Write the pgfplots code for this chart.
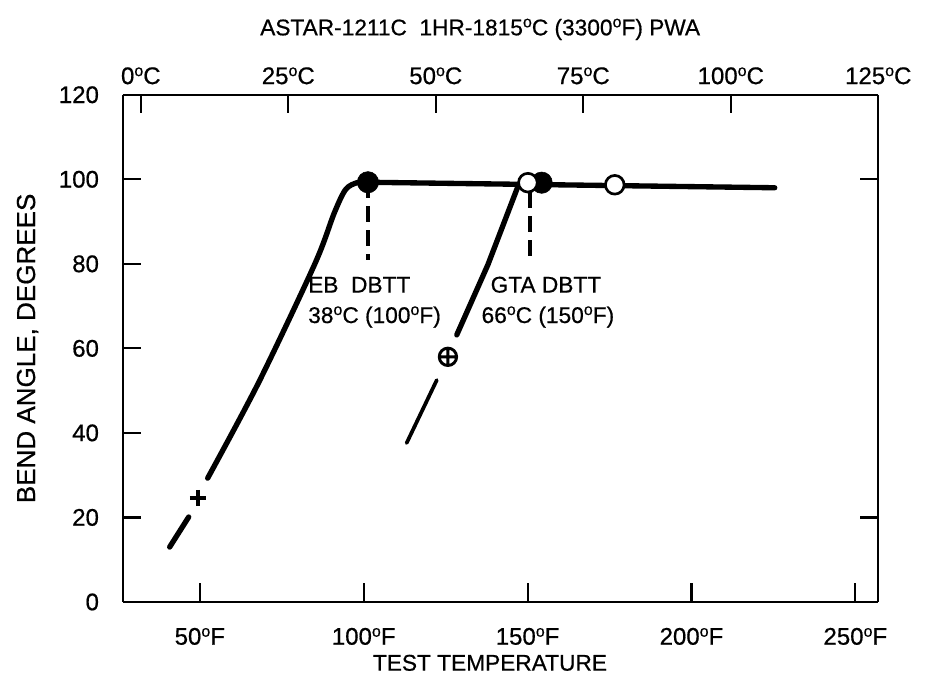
\documentclass[border=0pt]{standalone}
\usepackage{fontspec}
\setmainfont{Liberation Sans}[FakeBold=0.6]
\usepackage{pgfplots}
\pgfplotsset{compat=1.18}
\usetikzlibrary{calc}

\newcommand{\dg}{\raisebox{6pt}{\fontsize{12}{12}\selectfont o}}

\pgfplotsset{
  common/.style={
    width=566pt, height=380pt, scale only axis,
    xmin=26.5, xmax=257, ymin=0, ymax=120,
    axis line style={line width=1.6pt},
    tick style={line width=1.6pt, black},
    major tick length=14pt,
    tick align=inside,
    clip=false,
    tick label style={font=\fontsize{18}{21}\selectfont},
    label style={font=\fontsize{17}{20}\selectfont},
    /pgf/number format/assume math mode=true,
  },
}

\begin{document}
\fontsize{17}{20}\selectfont
\begin{tikzpicture}
% lower (°F) and left axes with the data
\begin{axis}[common,
  axis lines*=left,
  xtick={50,100,150,200,250},
  xticklabels={50\dg F, 100\dg F, 150\dg F, 200\dg F, 250\dg F},
  xticklabel style={anchor=base, yshift=-32pt},
  ytick={0,20,...,120},
  yticklabel style={xshift=-12pt},
  xlabel={TEST TEMPERATURE},
  xlabel style={at={(axis description cs:0.486,-0.12)}, anchor=center},
  ylabel={BEND ANGLE, DEGREES},
  ylabel style={at={(axis description cs:-0.126,0.5)}, anchor=center, font=\fontsize{19.5}{22}\selectfont},
]
  % EB weld
  \addplot[line width=4pt, line cap=round] coordinates {(40.8,13.0) (46.6,20.1)};
  \addplot[only marks, mark=+, mark size=6pt, mark options={line width=2.5pt}] coordinates {(49.4,24.6)};
  \addplot[line width=4pt, line cap=round, smooth, tension=0.5] coordinates {
    (52.4,29.3) (68,52) (85.1,80) (91,92) (94.5,97.6) (98,99.2) (101.3,99.3)};
  % plateau
  \addplot[line width=4pt, line cap=round] coordinates {(101.3,99.3) (225.4,98.0)};
  % GTA weld
  \addplot[line width=2.8pt, line cap=round] coordinates {(113.1,37.6) (122.3,52.5)};
  \addplot[only marks, mark=oplus, mark size=6.5pt, mark options={line width=2.2pt}] coordinates {(125.7,58.0)};
  \addplot[line width=4pt, line cap=round] coordinates {(128.4,63.2) (137.9,79.8) (147,98.2) (150.1,99.1)};
  % DBTT markers
  \addplot[line width=3.5pt, dash pattern=on 12pt off 6pt] coordinates {(101.3,99.3) (101.3,81)};
  \addplot[line width=3.5pt, dash pattern=on 12pt off 6pt] coordinates {(150.7,97) (150.7,81)};
  \addplot[only marks, mark=*, mark size=8pt] coordinates {(101.3,99.3) (154.3,99.2)};
  \addplot[only marks, mark=*, mark size=7pt, mark options={fill=white, draw=black, line width=2pt}] coordinates {(150.1,99.2) (176.6,98.7)};
  % annotations
  \node[anchor=base west, inner sep=0pt] at (axis cs:83,73.2) {EB\ \ DBTT};
  \node[anchor=base west, inner sep=0pt] at (axis cs:83,66.0) {38\dg C (100\dg F)};
  \node[anchor=base, inner sep=0pt] at (axis cs:155.6,73.2) {GTA DBTT};
  \node[anchor=base, inner sep=0pt] at (axis cs:156.2,66.0) {66\dg C (150\dg F)};
  \node[anchor=center] at (rel axis cs:0.473,1) [yshift=49pt] {ASTAR-1211C\ \ 1HR-1815\dg C (3300\dg F) PWA};
\end{axis}
% upper (°C) and right axes
\begin{axis}[common,
  axis x line*=top, axis y line*=right,
  xtick={32,77,122,167,212,257},
  xticklabels={0\dg C, 25\dg C, 50\dg C, 75\dg C, 100\dg C, 125\dg C},
  xticklabel style={anchor=base, yshift=8pt},
  ytick={20,100}, yticklabels={},
]
\end{axis}
\pgfresetboundingbox
\path[use as bounding box] ($(current axis.south west)+(-92pt,-60pt)$) rectangle ($(current axis.north east)+(41pt,71pt)$);
\end{tikzpicture}
\end{document}
